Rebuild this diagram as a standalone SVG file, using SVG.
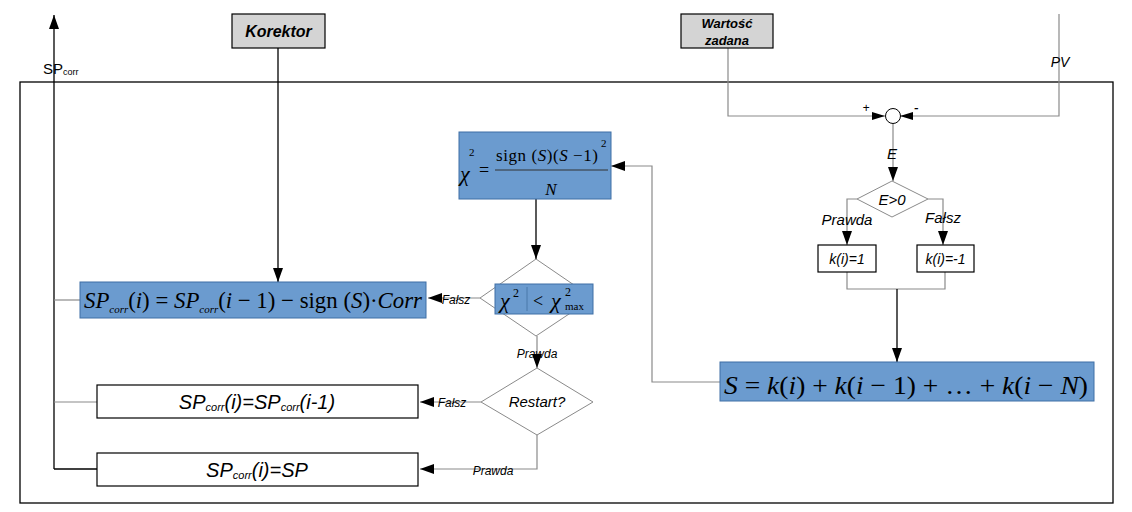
<svg xmlns="http://www.w3.org/2000/svg" width="1132" height="512" viewBox="0 0 1132 512">
<style>
.sans{font-family:"Liberation Sans",Arial,sans-serif}
.serif{font-family:"Liberation Serif","Times New Roman",serif}
.it{font-style:italic}
.g{fill:none;stroke:#8a8a8a;stroke-width:1.2}
.k{fill:none;stroke:#000;stroke-width:1.3}
.blue{fill:#6b9bcf;stroke:#3f6fa5;stroke-width:1}
.box{fill:#fff;stroke:#000;stroke-width:1.2}
.gray{fill:#d4d4d4;stroke:#000;stroke-width:1.2}
.dia{fill:#fff;stroke:#8a8a8a;stroke-width:1}
</style>
<defs>
<marker id="ah" viewBox="0 0 14 10" refX="14" refY="5" markerWidth="14" markerHeight="10" markerUnits="userSpaceOnUse" orient="auto"><path d="M0,0 L14,5 L0,10 Z" fill="#000"/></marker>
<marker id="ahs" viewBox="0 0 13 8" refX="13" refY="4" markerWidth="13" markerHeight="8" markerUnits="userSpaceOnUse" orient="auto"><path d="M0,0 L13,4 L0,8 Z" fill="#000"/></marker>
</defs>
<rect id="frame" x="20" y="82" width="1093" height="421" fill="none" stroke="#000" stroke-width="1.3"/>
<g id="connectors">
<line class="k" x1="54" y1="469" x2="54" y2="15" marker-end="url(#ah)"/>
<line class="g" x1="54" y1="300" x2="80" y2="300"/>
<line class="g" x1="54" y1="402" x2="97" y2="402"/>
<line class="k" x1="54" y1="469" x2="97" y2="469"/>
<line class="k" x1="278" y1="48" x2="278" y2="282" marker-end="url(#ah)"/>
<line class="k" x1="536" y1="199" x2="536" y2="259" marker-end="url(#ah)"/>
<line class="g" x1="480" y1="298" x2="428" y2="298" marker-end="url(#ah)"/>
<line class="g" x1="537" y1="336" x2="537" y2="368" marker-end="url(#ah)"/>
<line class="g" x1="481" y1="402" x2="420" y2="402" marker-end="url(#ah)"/>
<polyline class="g" points="537,435 537,469 420,469" marker-end="url(#ah)"/>
<polyline class="g" points="720,382 652,382 652,166 611,166" marker-end="url(#ah)"/>
<polyline class="g" points="728,48 728,116 885,116" marker-end="url(#ahs)"/>
<polyline class="g" points="1059,14 1059,116 900,116" marker-end="url(#ahs)"/>
<line class="g" x1="893" y1="124" x2="893" y2="181" marker-end="url(#ah)"/>
<polyline class="g" points="857,199 847,199 847,245" marker-end="url(#ah)"/>
<polyline class="g" points="928,199 943,199 943,245" marker-end="url(#ah)"/>
<polyline class="g" points="847,272 847,289 945,289 945,272"/>
<line class="k" x1="897" y1="289" x2="897" y2="362" marker-end="url(#ah)"/>
</g>
<g id="labels">
<text class="sans" x="43" y="74" font-size="15">SP<tspan font-size="9" dy="1">corr</tspan></text>
<text class="sans it" x="866" y="112" font-size="12" text-anchor="middle">+</text>
<text class="sans it" x="916" y="113" font-size="14" text-anchor="middle">-</text>
<text class="sans it" x="1060" y="67" font-size="14" text-anchor="middle">PV</text>
<text class="sans it" x="892" y="159" font-size="15" text-anchor="middle">E</text>
<text class="sans it" x="847" y="225" font-size="15" text-anchor="middle">Prawda</text>
<text class="sans it" x="943" y="223" font-size="15" text-anchor="middle">Fałsz</text>
<text class="sans it" x="456" y="304" font-size="12" text-anchor="middle">Fałsz</text>
<text class="sans it" x="537" y="358" font-size="12" text-anchor="middle">Prawda</text>
<text class="sans it" x="452" y="407" font-size="12" text-anchor="middle">Fałsz</text>
<text class="sans it" x="493" y="475" font-size="12" text-anchor="middle">Prawda</text>
</g>
<g id="korektor">
<rect class="gray" x="232" y="14" width="93" height="34"/>
<text class="sans it" x="278.5" y="37" font-size="16" font-weight="bold" text-anchor="middle">Korektor</text>
</g>
<g id="wartosc">
<rect class="gray" x="681" y="14" width="92" height="34"/>
<text class="sans it" x="727" y="28" font-size="13" font-weight="bold" text-anchor="middle">Wartość</text>
<text class="sans it" x="727" y="45" font-size="13" font-weight="bold" text-anchor="middle">zadana</text>
</g>
<g id="sum">
<circle cx="893" cy="116" r="7.5" fill="#fff" stroke="#000" stroke-width="1"/>
</g>
<g id="ecmp">
<polygon class="dia" points="892,181 928,199 892,217 857,199"/>
<text class="sans it" x="892" y="205" font-size="15" text-anchor="middle">E&gt;0</text>
</g>
<g id="kpos">
<rect class="box" x="818" y="245" width="58" height="27"/>
<text class="sans it" x="847" y="264" font-size="14" text-anchor="middle">k(i)=1</text>
</g>
<g id="kneg">
<rect class="box" x="917" y="245" width="57" height="27"/>
<text class="sans it" x="945.5" y="264" font-size="14" text-anchor="middle">k(i)=-1</text>
</g>
<g id="sumS">
<rect class="blue" x="720" y="362" width="374" height="39"/>
<text class="serif" x="724" y="394" font-size="26" textLength="364" lengthAdjust="spacingAndGlyphs"><tspan font-style="italic">S</tspan> = <tspan font-style="italic">k</tspan>(<tspan font-style="italic">i</tspan>) + <tspan font-style="italic">k</tspan>(<tspan font-style="italic">i</tspan> − 1) + … + <tspan font-style="italic">k</tspan>(<tspan font-style="italic">i</tspan> − <tspan font-style="italic">N</tspan>)</text>
</g>
<g id="chi">
<rect class="blue" x="459" y="132" width="152" height="67"/>
<text class="serif it" x="460" y="181" font-size="22">χ</text>
<text class="serif" x="469" y="156" font-size="11">2</text>
<text class="serif" x="479" y="176" font-size="18">=</text>
<line x1="495" y1="170" x2="608" y2="170" stroke="#333" stroke-width="1"/>
<text class="serif" x="496" y="161" font-size="17" textLength="102" lengthAdjust="spacing">sign  (<tspan font-style="italic">S</tspan>)(<tspan font-style="italic">S</tspan> −1)</text>
<text class="serif" x="601" y="147" font-size="11">2</text>
<text class="serif it" x="551" y="195" font-size="17" text-anchor="middle">N</text>
</g>
<g id="chicmp">
<polygon class="dia" points="536,259 593,298 536,336 480,298"/>
<rect class="blue" x="495" y="284" width="98" height="30"/>
<line x1="527" y1="287" x2="527" y2="311" stroke="#4a78aa" stroke-width="1"/>
<text class="serif it" x="500" y="308" font-size="22">χ</text>
<text class="serif" x="513" y="297" font-size="12">2</text>
<text class="serif" x="533" y="307" font-size="18">&lt;</text>
<text class="serif it" x="551" y="308" font-size="22">χ</text>
<text class="serif" x="565" y="296" font-size="12">2</text>
<text class="serif" x="565" y="310" font-size="11">max</text>
</g>
<g id="spcorr">
<rect class="blue" x="80" y="282" width="346" height="36"/>
<text class="serif" x="84" y="308" font-size="23" textLength="338" lengthAdjust="spacingAndGlyphs"><tspan font-style="italic">SP</tspan><tspan font-style="italic" font-size="11" dy="5">corr</tspan><tspan dy="-5">(</tspan><tspan font-style="italic">i</tspan>) = <tspan font-style="italic">SP</tspan><tspan font-style="italic" font-size="11" dy="5">corr</tspan><tspan dy="-5">(</tspan><tspan font-style="italic">i</tspan> − 1) − sign  (<tspan font-style="italic">S</tspan>)·<tspan font-style="italic">Corr</tspan></text>
</g>
<g id="restart">
<polygon class="dia" points="537,368 593,402 537,435 481,402"/>
<text class="sans it" x="537" y="407" font-size="15" text-anchor="middle">Restart?</text>
</g>
<g id="hold">
<rect class="box" x="97" y="385" width="321" height="33"/>
<text class="sans it" x="257" y="409" font-size="20" text-anchor="middle">SP<tspan font-size="11" dy="2">corr</tspan><tspan dy="-2">(i)=SP</tspan><tspan font-size="11" dy="2">corr</tspan><tspan dy="-2">(i-1)</tspan></text>
</g>
<g id="reset">
<rect class="box" x="97" y="453" width="321" height="33"/>
<text class="sans it" x="257" y="477" font-size="20" text-anchor="middle">SP<tspan font-size="11" dy="2">corr</tspan><tspan dy="-2">(i)=SP</tspan></text>
</g>
</svg>
